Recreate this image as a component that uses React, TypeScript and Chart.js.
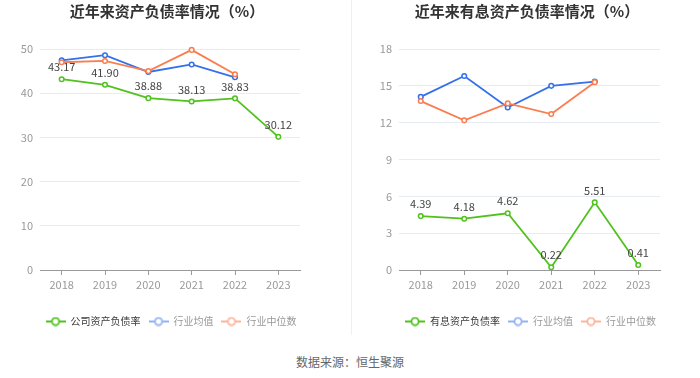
import React, { useEffect, useRef } from "react";
import { Chart, registerables } from "chart.js";
Chart.register(...registerables);

const years = ["2018", "2019", "2020", "2021", "2022", "2023"];
const debtRatio = [43.17, 41.9, 38.88, 38.13, 38.83, 30.12];
const debtIndustryAvg = [47.45, 48.6, 44.8, 46.5, 43.6, null];
const debtIndustryMedian = [47.0, 47.3, 45.0, 49.8, 44.3, null];
const interestRatio = [4.39, 4.18, 4.62, 0.22, 5.51, 0.41];
const interestIndustryAvg = [14.1, 15.8, 13.24, 15.0, 15.35, null];
const interestIndustryMedian = [13.76, 12.19, 13.57, 12.7, 15.3, null];

const leftTitle = "近年来资产负债率情况（%）";
const rightTitle = "近年来有息资产负债率情况（%）";
const leftSeriesNames = ["公司资产负债率", "行业均值", "行业中位数"];
const rightSeriesNames = ["有息资产负债率", "行业均值", "行业中位数"];
const sourceText = "数据来源：恒生聚源";

const GREEN = "#4fc21d";
const BLUE = "#3470eb";
const ORANGE = "#fa7d4f";
const LEGEND_COLORS = [GREEN, "#93b2f3", "#fbb59c"];
const LEGEND_TEXT = ["#3a3a3a", "#999", "#999"];
const FF = '"Noto Sans CJK SC", "Noto Sans", sans-serif';

function legendIcon(color: string): HTMLCanvasElement {
  const c = document.createElement("canvas");
  c.width = 20;
  c.height = 10;
  const ctx = c.getContext("2d")!;
  ctx.strokeStyle = color;
  ctx.lineWidth = 2;
  ctx.beginPath();
  ctx.moveTo(0, 5);
  ctx.lineTo(20, 5);
  ctx.stroke();
  ctx.beginPath();
  ctx.arc(10, 5, 3.6, 0, Math.PI * 2);
  ctx.fillStyle = "#fff";
  ctx.fill();
  ctx.lineWidth = 1.8;
  ctx.stroke();
  return c;
}

const valueLabelPlugin = {
  id: "valueLabels",
  afterDatasetsDraw(chart: any) {
    const meta = chart.getDatasetMeta(0);
    const data = chart.data.datasets[0].data;
    const ctx = chart.ctx;
    ctx.save();
    ctx.font = `11px ${FF}`;
    ctx.fillStyle = "#444";
    ctx.textAlign = "center";
    ctx.textBaseline = "middle";
    meta.data.forEach((pt: any, i: number) => {
      const v = data[i];
      if (v == null) return;
      ctx.fillText(Number(v).toFixed(2), pt.x, pt.y - 12);
    });
    ctx.restore();
  },
};

function buildConfig(
  names: string[],
  main: number[],
  avg: (number | null)[],
  med: (number | null)[],
  yMax: number,
  yStep: number,
  padLeft: number,
  padRight: number,
  yWidth: number,
  y2Width: number
): any {
  const mk = (label: string, data: any[], color: string, order: number) => ({
    label,
    data,
    borderColor: color,
    backgroundColor: "#fff",
    borderWidth: 1.8,
    pointRadius: 2.3,
    pointBorderWidth: 1.5,
    pointBackgroundColor: "#fff",
    pointBorderColor: color,
    tension: 0,
    spanGaps: false,
    clip: false,
    order,
    yAxisID: "y",
  });
  return {
    type: "line",
    data: {
      labels: years,
      datasets: [
        mk(names[0], main, GREEN, 3),
        mk(names[1], avg, BLUE, 2),
        mk(names[2], med, ORANGE, 1),
      ],
    },
    options: {
      animation: false,
      responsive: false,
      maintainAspectRatio: false,
      layout: { padding: { left: padLeft, right: padRight, top: 49, bottom: 3.5 } },
      plugins: {
        title: { display: false },
        tooltip: { enabled: false },
        legend: {
          display: true,
          position: "bottom",
          align: "center",
          labels: {
            usePointStyle: true,
            pointStyleWidth: 20,
            padding: 8,
            font: { family: FF, size: 10 },
            generateLabels: (chart: any) =>
              chart.data.datasets.map((ds: any, i: number) => ({
                text: ds.label,
                pointStyle: legendIcon(LEGEND_COLORS[i]),
                fillStyle: LEGEND_COLORS[i],
                strokeStyle: LEGEND_COLORS[i],
                lineWidth: 0,
                fontColor: LEGEND_TEXT[i],
                hidden: false,
                datasetIndex: i,
              })),
          },
        },
      },
      scales: {
        x: {
          type: "category",
          offset: true,
          afterFit: (s: any) => {
            s.height = 38.5;
          },
          grid: {
            offset: false,
            drawOnChartArea: false,
            drawTicks: true,
            tickLength: 5,
            color: "#9a9a9a",
          },
          border: { display: true, color: "#9a9a9a", width: 1 },
          ticks: {
            color: "#999",
            padding: 3,
            font: { family: FF, size: 11 },
            maxRotation: 0,
            autoSkip: false,
          },
        },
        y: {
          position: "left",
          min: 0,
          max: yMax,
          afterFit: (s: any) => {
            s.width = yWidth;
          },
          grid: {
            drawTicks: false,
            color: (c: any) => (c.tick && c.tick.value === 0 ? "rgba(0,0,0,0)" : "#e6ebf4"),
            lineWidth: 1,
          },
          border: { display: false },
          ticks: {
            stepSize: yStep,
            padding: 7,
            color: "#999",
            font: { family: FF, size: 11 },
          },
        },
        y2: {
          type: "linear",
          position: "right",
          min: 0,
          max: yMax,
          afterFit: (s: any) => {
            s.width = y2Width;
          },
          grid: { drawOnChartArea: false, drawTicks: false, display: false },
          border: { display: false },
          ticks: { display: false },
        },
      },
    },
    plugins: [valueLabelPlugin],
  };
}

function ChartBox(props: { config: any; left: number }) {
  const ref = useRef<HTMLCanvasElement>(null);
  useEffect(() => {
    const chart = new Chart(ref.current!, props.config);
    return () => chart.destroy();
  }, []);
  return (
    <canvas
      ref={ref}
      width={350}
      height={340}
      style={{ position: "absolute", left: props.left, top: 0, width: 350, height: 340 }}
    />
  );
}

export default function App() {
  useEffect(() => {
    document.body.style.margin = "0";
  }, []);
  // left: plot 40..300, legend box 0..342 (center 171)
  const leftCfg = buildConfig(leftSeriesNames, debtRatio, debtIndustryAvg, debtIndustryMedian, 50, 10, 0, 8, 40, 42);
  // right: plot 49..310, legend box 11..350 (center 180.5)
  const rightCfg = buildConfig(rightSeriesNames, interestRatio, interestIndustryAvg, interestIndustryMedian, 18, 3, 11, 0, 38, 40);
  const titleStyle = (cx: number): React.CSSProperties => ({
    position: "absolute",
    top: 2,
    left: cx - 150,
    width: 300,
    textAlign: "center",
    font: `bold 15px ${FF}`,
    lineHeight: "18px",
    color: "#333",
    whiteSpace: "nowrap",
  });
  return (
    <div style={{ position: "relative", width: 700, height: 378, background: "#fff", overflow: "hidden" }}>
      <ChartBox config={leftCfg} left={0} />
      <ChartBox config={rightCfg} left={350} />
      <div style={titleStyle(167)}>{leftTitle}</div>
      <div style={titleStyle(527)}>{rightTitle}</div>
      <div style={{ position: "absolute", left: 351, top: 0, width: 1, height: 335, background: "#f0f0f0" }} />
      <div
        style={{
          position: "absolute",
          left: 0,
          width: 700,
          top: 354,
          textAlign: "center",
          font: `12px ${FF}`,
          lineHeight: "16px",
          color: "#666",
        }}
      >
        {sourceText}
      </div>
    </div>
  );
}
